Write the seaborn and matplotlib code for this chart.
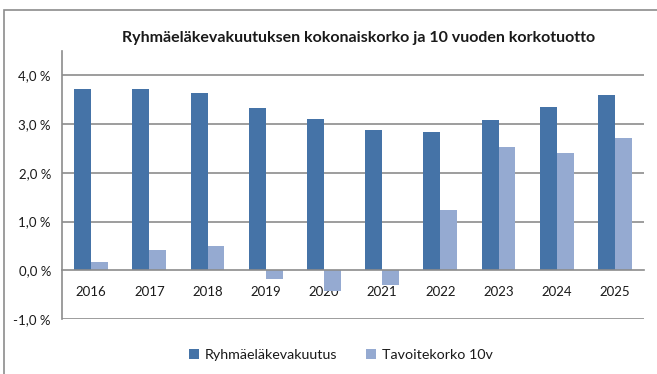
import matplotlib
matplotlib.use("Agg")
import matplotlib.pyplot as plt
from matplotlib.patches import Rectangle
from matplotlib.ticker import FuncFormatter, FixedLocator
import numpy as np
import pandas as pd
import seaborn as sns

# Chart data (percent)
years = ["2016", "2017", "2018", "2019", "2020", "2021", "2022", "2023", "2024", "2025"]
ryhmaelakevakuutus = [3.71, 3.71, 3.63, 3.33, 3.11, 2.88, 2.83, 3.08, 3.35, 3.60]
tavoitekorko_10v = [0.17, 0.41, 0.51, -0.17, -0.42, -0.29, 1.23, 2.53, 2.40, 2.71]
series_names = ["Ryhmäeläkevakuutus", "Tavoitekorko 10v"]
title = "Ryhmäeläkevakuutuksen kokonaiskorko ja 10 vuoden korkotuotto"

df = pd.DataFrame({
    "vuosi": years * 2,
    "arvo": ryhmaelakevakuutus + tavoitekorko_10v,
    "sarja": [series_names[0]] * len(years) + [series_names[1]] * len(years),
})

sns.set_theme(style="white")
plt.rcParams["font.family"] = ["Lato", "DejaVu Sans"]

grey = "#8c8c8c"
text_col = "#1a1a1a"

fig = plt.figure(figsize=(6.57, 3.74), dpi=100)
ax = fig.add_axes([62 / 657, 1 - 319.3 / 374, (644 - 62) / 657, (319.3 - 50.7) / 374])

sns.barplot(data=df, x="vuosi", y="arvo", hue="sarja",
            palette=["#4573a7", "#95aad1"], saturation=1,
            width=0.58, linewidth=0, ax=ax, legend=True)

ax.set_xlim(-0.5, len(years) - 0.5)
ax.set_ylim(-1, 4.5)
ax.set_xlabel("")
ax.set_ylabel("")

# horizontal gridlines
for v in [-1, 1, 2, 3, 4]:
    ax.axhline(v, color=grey, lw=1.2, zorder=0.5)

for s in ["top", "right"]:
    ax.spines[s].set_visible(False)
ax.spines["left"].set_color(grey)
ax.spines["left"].set_linewidth(1.2)
ax.spines["bottom"].set_position(("data", 0))
ax.spines["bottom"].set_color(grey)
ax.spines["bottom"].set_linewidth(1.2)
ax.spines["bottom"].set_zorder(3)

# category axis at zero: labels at centers, tick marks at boundaries
ax.xaxis.set_minor_locator(FixedLocator(np.arange(-0.5, len(years), 1.0)))
ax.tick_params(axis="x", which="major", length=0, pad=11, labelsize=9.5, colors=text_col)
ax.tick_params(axis="x", which="minor", length=4.5, width=1.2, color=grey, direction="out")

ax.set_yticks([-1, 0, 1, 2, 3, 4])
ax.yaxis.set_major_formatter(FuncFormatter(lambda v, p: f"{v:.1f} %".replace(".", ",")))
ax.tick_params(axis="y", length=4, width=1.2, color=grey, pad=4, labelsize=9.5, labelcolor=text_col)

fig.text(359 / 657, 1 - 38 / 374, title, ha="center", va="center",
         fontsize=11.5, fontweight="bold", color=text_col)

handles, labels = ax.get_legend_handles_labels()
ax.legend_.remove()
fig.legend(handles, labels, loc="center", bbox_to_anchor=(341 / 657, 1 - 355 / 374),
           ncol=2, frameon=False, fontsize=10.3, handlelength=0.7, handleheight=0.7,
           handletextpad=0.4, columnspacing=2.0, labelcolor=text_col)

# outer chart frame
fig.patches.append(Rectangle((4 / 657, -0.2), 1.2, 1.2 - 10 / 374, transform=fig.transFigure,
                             fill=False, edgecolor=grey, lw=1.2, zorder=0))

fig.savefig("out.png", dpi=100)
